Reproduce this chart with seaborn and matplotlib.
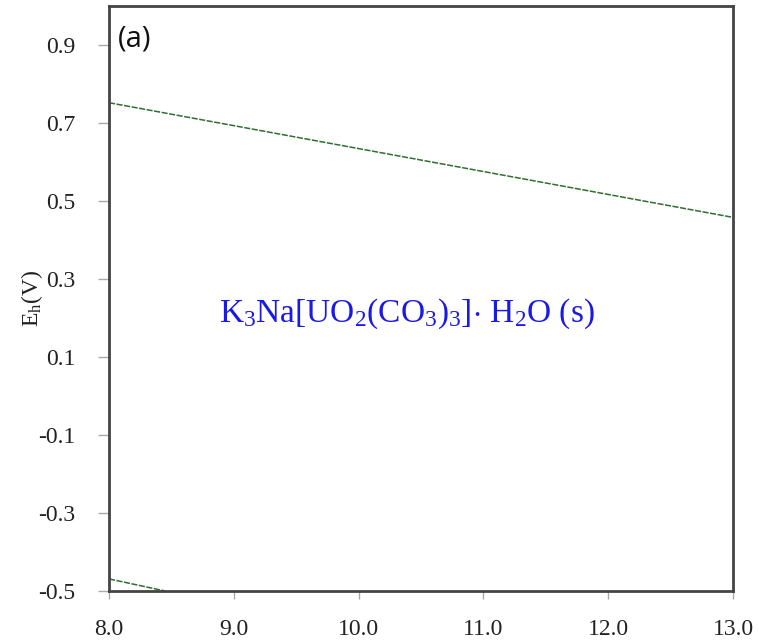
import matplotlib
matplotlib.use("Agg")
import matplotlib.pyplot as plt
import seaborn as sns
import pandas as pd

# Data
ph_upper = [8.0, 13.0]
eh_upper = [0.752, 0.458]
ph_lower = [8.0, 8.45]
eh_lower = [-0.469, -0.5]
xticks = [8.0, 9.0, 10.0, 11.0, 12.0, 13.0]
yticks = [0.9, 0.7, 0.5, 0.3, 0.1, -0.1, -0.3, -0.5]
species_label = r"K$_3$Na[UO$_2$(CO$_3$)$_3$]$\cdot$ H$_2$O (s)"

sns.set_theme(style="white")
plt.rcParams['mathtext.fontset'] = 'custom'
plt.rcParams['mathtext.rm'] = 'Liberation Serif'
plt.rcParams['mathtext.it'] = 'Liberation Serif'

fig = plt.figure(figsize=(7.59, 6.41), dpi=100)
ax = fig.add_axes([109/759, 1 - 591/641, (733-109)/759, (591-6)/641])

df_u = pd.DataFrame({"pH": ph_upper, "Eh": eh_upper})
df_l = pd.DataFrame({"pH": ph_lower, "Eh": eh_lower})
for d in (df_u, df_l):
    sns.lineplot(data=d, x="pH", y="Eh", ax=ax, color="#2f6f2f", lw=1.1,
                 linestyle=(0, (4, 1)))

ax.set_xlim(8, 13)
ax.set_ylim(-0.5, 1.0)
ax.set_xticks(xticks)
ax.set_xticklabels([f"{v:.1f}" for v in xticks], family="Liberation Serif", fontsize=17, color="#222222")
ax.set_yticks(yticks)
ax.set_yticklabels([f"{v:.1f}" for v in yticks], family="Liberation Serif", fontsize=17, color="#222222")
ax.tick_params(axis="x", which="both", direction="out", length=6, width=1, color="#aaaaaa",
               bottom=True, pad=14)
ax.tick_params(axis="y", which="both", direction="out", length=8, width=1, color="#aaaaaa",
               left=True, pad=16)
ax.set_xlabel("")
ax.set_ylabel(r"E$_\mathrm{h}$(V)", family="Liberation Serif", fontsize=17, color="#222222")
ax.yaxis.set_label_coords(-0.103, 0.5)
for s in ax.spines.values():
    s.set_color("#444444")
    s.set_linewidth(2)

ax.text(10.39, 0.21, species_label, color="#1a1ae6", fontsize=24, ha="center", va="center",
        family="Liberation Serif")
ax.text(0.015, 0.968, "(a)", transform=ax.transAxes, fontsize=21, ha="left", va="top",
        family="Open Sans", color="#111111")

fig.savefig("out.png", dpi=100)
